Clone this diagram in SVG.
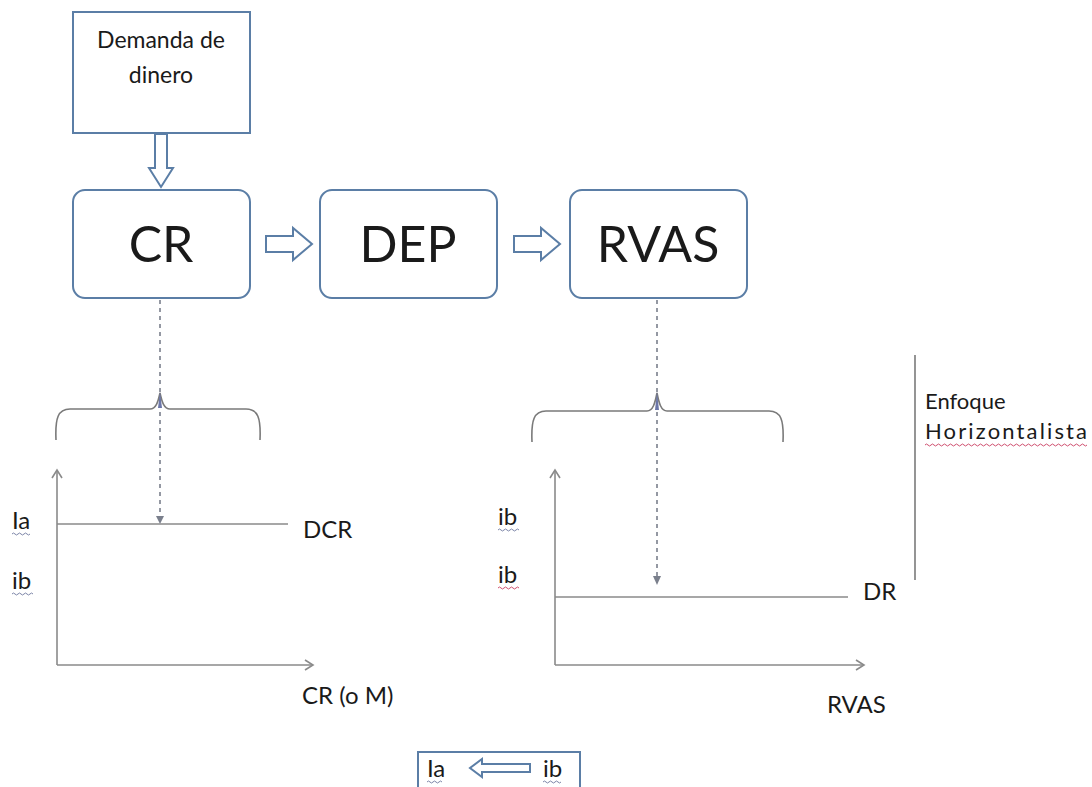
<svg xmlns="http://www.w3.org/2000/svg" width="1092" height="787" viewBox="0 0 1092 787">
<defs>
<style>
.box{fill:#fff;stroke:#5b7ea6;stroke-width:2}
.t{font-family:Lato,"Open Sans",sans-serif;fill:#1a1a1a}
.big{font-size:50px}
.med{font-size:23px}
.sm{font-size:24px}
.en{font-size:22px}
.hollow{fill:#fff;stroke:#5b7ea6;stroke-width:2;stroke-linejoin:miter}
.axis{fill:none;stroke:#8a8a8a;stroke-width:1.6}
.brace{fill:none;stroke:#7a7a7a;stroke-width:1.6}
.dash{fill:none;stroke:#7a7f8c;stroke-width:1.6;stroke-dasharray:4 4}
.wave{fill:none;stroke-width:1}
</style>
<marker id="open" markerWidth="12" markerHeight="12" refX="10" refY="6" orient="auto" markerUnits="userSpaceOnUse">
<path d="M2,1 L10,6 L2,11" fill="none" stroke="#8a8a8a" stroke-width="1.6"/>
</marker>
</defs>
<rect width="1092" height="787" fill="#fff"/>

<g id="demanda">
<rect class="box" x="73" y="12" width="177" height="121"/>
<text class="t med" x="161" y="48" text-anchor="middle">Demanda de</text>
<text class="t med" x="161" y="83" text-anchor="middle">dinero</text>
</g>

<g id="cr">
<rect class="box" x="73" y="190" width="177" height="108" rx="12"/>
<text class="t big" x="161" y="262" text-anchor="middle">CR</text>
</g>

<g id="dep">
<rect class="box" x="320" y="190" width="177" height="108" rx="12"/>
<text class="t big" x="408" y="262" text-anchor="middle">DEP</text>
</g>

<g id="rvas">
<rect class="box" x="570" y="190" width="177" height="108" rx="12"/>
<text class="t big" x="658" y="262" text-anchor="middle">RVAS</text>
</g>

<g id="connectors">
<path class="hollow" d="M155,134 L167,134 L167,168 L173,168 L161,187 L149,168 L155,168 Z"/>
<path class="hollow" d="M266,236 L293,236 L293,228 L312,244 L293,260 L293,252 L266,252 Z"/>
<path class="hollow" d="M514,236 L541,236 L541,228 L560,244 L541,260 L541,252 L514,252 Z"/>
<path class="dash" d="M160,300 L160,520"/>
<path d="M156,516 L164,516 L160,524 Z" fill="#7a7f8c"/>
<path class="dash" d="M657,300 L657,580"/>
<path d="M653,576 L661,576 L657,585 Z" fill="#7a7f8c"/>
</g>

<g id="brace-left">
<path class="brace" d="M56,440 C55,418 58,409 70,409 L150,409 C156,409 158,402 160,393 C162,402 164,409 170,409 L246,409 C258,409 261,418 260,440"/>
<path d="M158,408 L160,392 L162,408 Z" fill="#6b76a8"/>
</g>

<g id="brace-right">
<path class="brace" d="M532,442 C531,420 534,411 546,411 L647,411 C653,411 655,403 657,393 C659,403 661,411 667,411 L769,411 C781,411 784,420 783,442"/>
<path d="M655,410 L657,392 L659,410 Z" fill="#6b76a8"/>
</g>

<g id="graph-left">
<path class="axis" d="M57,665 L57,470" marker-end="url(#open)"/>
<path class="axis" d="M57,665 L313,665" marker-end="url(#open)"/>
<path class="axis" d="M57,524 L288,524" stroke="#7d8f8a"/>
<text class="t sm" x="12" y="529">Ia</text>
<path class="wave" stroke="#7d86a8" d="M12,534 q1.5,-2 3,0 t3,0 t3,0 t3,0 t3,0 t3,0"/>
<text class="t sm" x="12" y="589">ib</text>
<path class="wave" stroke="#7d86a8" d="M12,594 q1.5,-2 3,0 t3,0 t3,0 t3,0 t3,0 t3,0 t3,0"/>
<text class="t sm" x="303" y="538">DCR</text>
<text class="t sm" x="302" y="704">CR (o M)</text>
</g>

<g id="graph-right">
<path class="axis" d="M555,665 L555,470" marker-end="url(#open)"/>
<path class="axis" d="M555,665 L864,665" marker-end="url(#open)"/>
<path class="axis" d="M555,597 L848,597"/>
<text class="t sm" x="498" y="525">ib</text>
<path class="wave" stroke="#7d86a8" d="M498,530 q1.5,-2 3,0 t3,0 t3,0 t3,0 t3,0 t3,0 t3,0"/>
<text class="t sm" x="498" y="583">ib</text>
<path class="wave" stroke="#d05070" d="M498,588 q1.5,-2 3,0 t3,0 t3,0 t3,0 t3,0 t3,0 t3,0"/>
<text class="t sm" x="863" y="600">DR</text>
<text class="t sm" x="827" y="713">RVAS</text>
</g>

<g id="enfoque">
<path d="M915,355 L915,580" stroke="#7a7a7a" stroke-width="1.6"/>
<text class="t en" x="925" y="409">Enfoque</text>
<text class="t en" x="925" y="439" textLength="162" lengthAdjust="spacing">Horizontalista</text>
<path class="wave" stroke="#d05070" d="M925,445 q1.5,-2 3,0 t3,0 t3,0 t3,0 t3,0 t3,0 t3,0 t3,0 t3,0 t3,0 t3,0 t3,0 t3,0 t3,0 t3,0 t3,0 t3,0 t3,0 t3,0 t3,0 t3,0 t3,0 t3,0 t3,0 t3,0 t3,0 t3,0 t3,0 t3,0 t3,0 t3,0 t3,0 t3,0 t3,0 t3,0 t3,0 t3,0 t3,0 t3,0 t3,0 t3,0 t3,0 t3,0 t3,0 t3,0 t3,0 t3,0 t3,0 t3,0 t3,0 t3,0 t3,0 t3,0 t3,0"/>
</g>

<g id="legend">
<rect x="418" y="752" width="162" height="40" fill="#fff" stroke="#5b7ea6" stroke-width="2"/>
<text class="t sm" x="427" y="777">Ia</text>
<path class="wave" stroke="#7d86a8" d="M427,782 q1.5,-2 3,0 t3,0 t3,0 t3,0 t3,0"/>
<path class="hollow" d="M530,764 L482,764 L482,759 L470,768 L482,777 L482,772 L530,772 Z"/>
<text class="t sm" x="543" y="777">ib</text>
<path class="wave" stroke="#7d86a8" d="M543,782 q1.5,-2 3,0 t3,0 t3,0 t3,0 t3,0 t3,0"/>
</g>
</svg>
